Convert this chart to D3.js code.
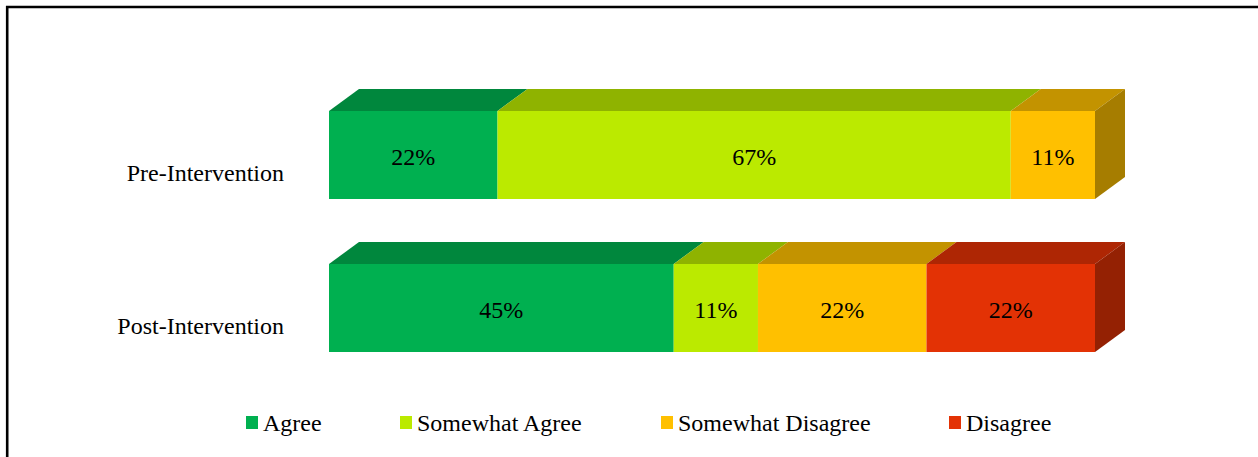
<!DOCTYPE html>
<html>
<head>
<meta charset="utf-8">
<script src="https://cdn.jsdelivr.net/npm/d3@7/dist/d3.min.js"></script>
<style>
  html, body { margin: 0; padding: 0; background: #fff; overflow: hidden; }
  text { font-family: "Liberation Serif", serif; fill: #000; }
</style>
</head>
<body>
<svg id="chart" width="1258" height="457"></svg>
<script>
const categories = ["Pre-Intervention", "Post-Intervention"];
const responses = ["Agree", "Somewhat Agree", "Somewhat Disagree", "Disagree"];
const preValues = [22, 67, 11, 0];
const postValues = [45, 11, 22, 22];
const palette = ["#00b050", "#bbea00", "#ffc000", "#e33205"];
const legendX = [246, 400, 661, 949];

const seriesByCategory = [preValues, postValues];

const depthX = 30, depthY = 22;
const fontSize = 24;
const svg = d3.select("#chart");

// Outer frame: only the top and left edges fall inside the window
svg.append("path")
  .attr("d", "M7.2,457V7H1258")
  .attr("fill", "none")
  .attr("stroke", "#000")
  .attr("stroke-width", 2.6);

const x = d3.scaleLinear().domain([0, 100]).range([329, 1095]);
const y = d3.scaleBand().domain(categories).range([80.4, 382.6]).paddingInner(65 / 153).paddingOuter(0.2);

const shade = (c, k) => d3.rgb(c).darker(k).formatHex();

categories.forEach((cat, i) => {
  const values = seriesByCategory[i];
  const starts = d3.cumsum([0, ...values]);
  const top = y(cat), h = y.bandwidth();
  const g = svg.append("g");

  // Top faces first, so the front faces sit over their seams
  values.forEach((v, j) => {
    if (!v) return;
    const x0 = x(starts[j]), x1 = x(starts[j] + v);
    g.append("polygon")
      .attr("points", [[x0, top], [x0 + depthX, top - depthY], [x1 + depthX, top - depthY], [x1, top]].join(" "))
      .attr("fill", shade(palette[j], 0.75));
  });

  // Right end face takes the colour of the last non-empty segment
  const last = d3.max(values.map((v, j) => v ? j : -1));
  const xEnd = x(100);
  g.append("polygon")
    .attr("points", [[xEnd, top], [xEnd + depthX, top - depthY], [xEnd + depthX, top + h - depthY], [xEnd, top + h]].join(" "))
    .attr("fill", shade(palette[last], 1.2));

  values.forEach((v, j) => {
    if (!v) return;
    const x0 = x(starts[j]), x1 = x(starts[j] + v);
    g.append("rect")
      .attr("x", x0).attr("y", top)
      .attr("width", x1 - x0).attr("height", h)
      .attr("fill", palette[j]);
    g.append("text")
      .attr("x", (x0 + x1) / 2)
      .attr("y", top + h / 2 + 9.5)
      .attr("text-anchor", "middle")
      .attr("font-size", fontSize)
      .text(v + "%");
  });

  svg.append("text")
    .attr("x", 284)
    .attr("y", top + h / 2 + 26)
    .attr("text-anchor", "end")
    .attr("font-size", fontSize)
    .text(cat);
});

const legend = svg.append("g");
responses.forEach((r, j) => {
  legend.append("rect")
    .attr("x", legendX[j]).attr("y", 416)
    .attr("width", 12).attr("height", 13)
    .attr("fill", palette[j]);
  legend.append("text")
    .attr("x", legendX[j] + 17)
    .attr("y", 431)
    .attr("font-size", fontSize)
    .text(r);
});
</script>
</body>
</html>
